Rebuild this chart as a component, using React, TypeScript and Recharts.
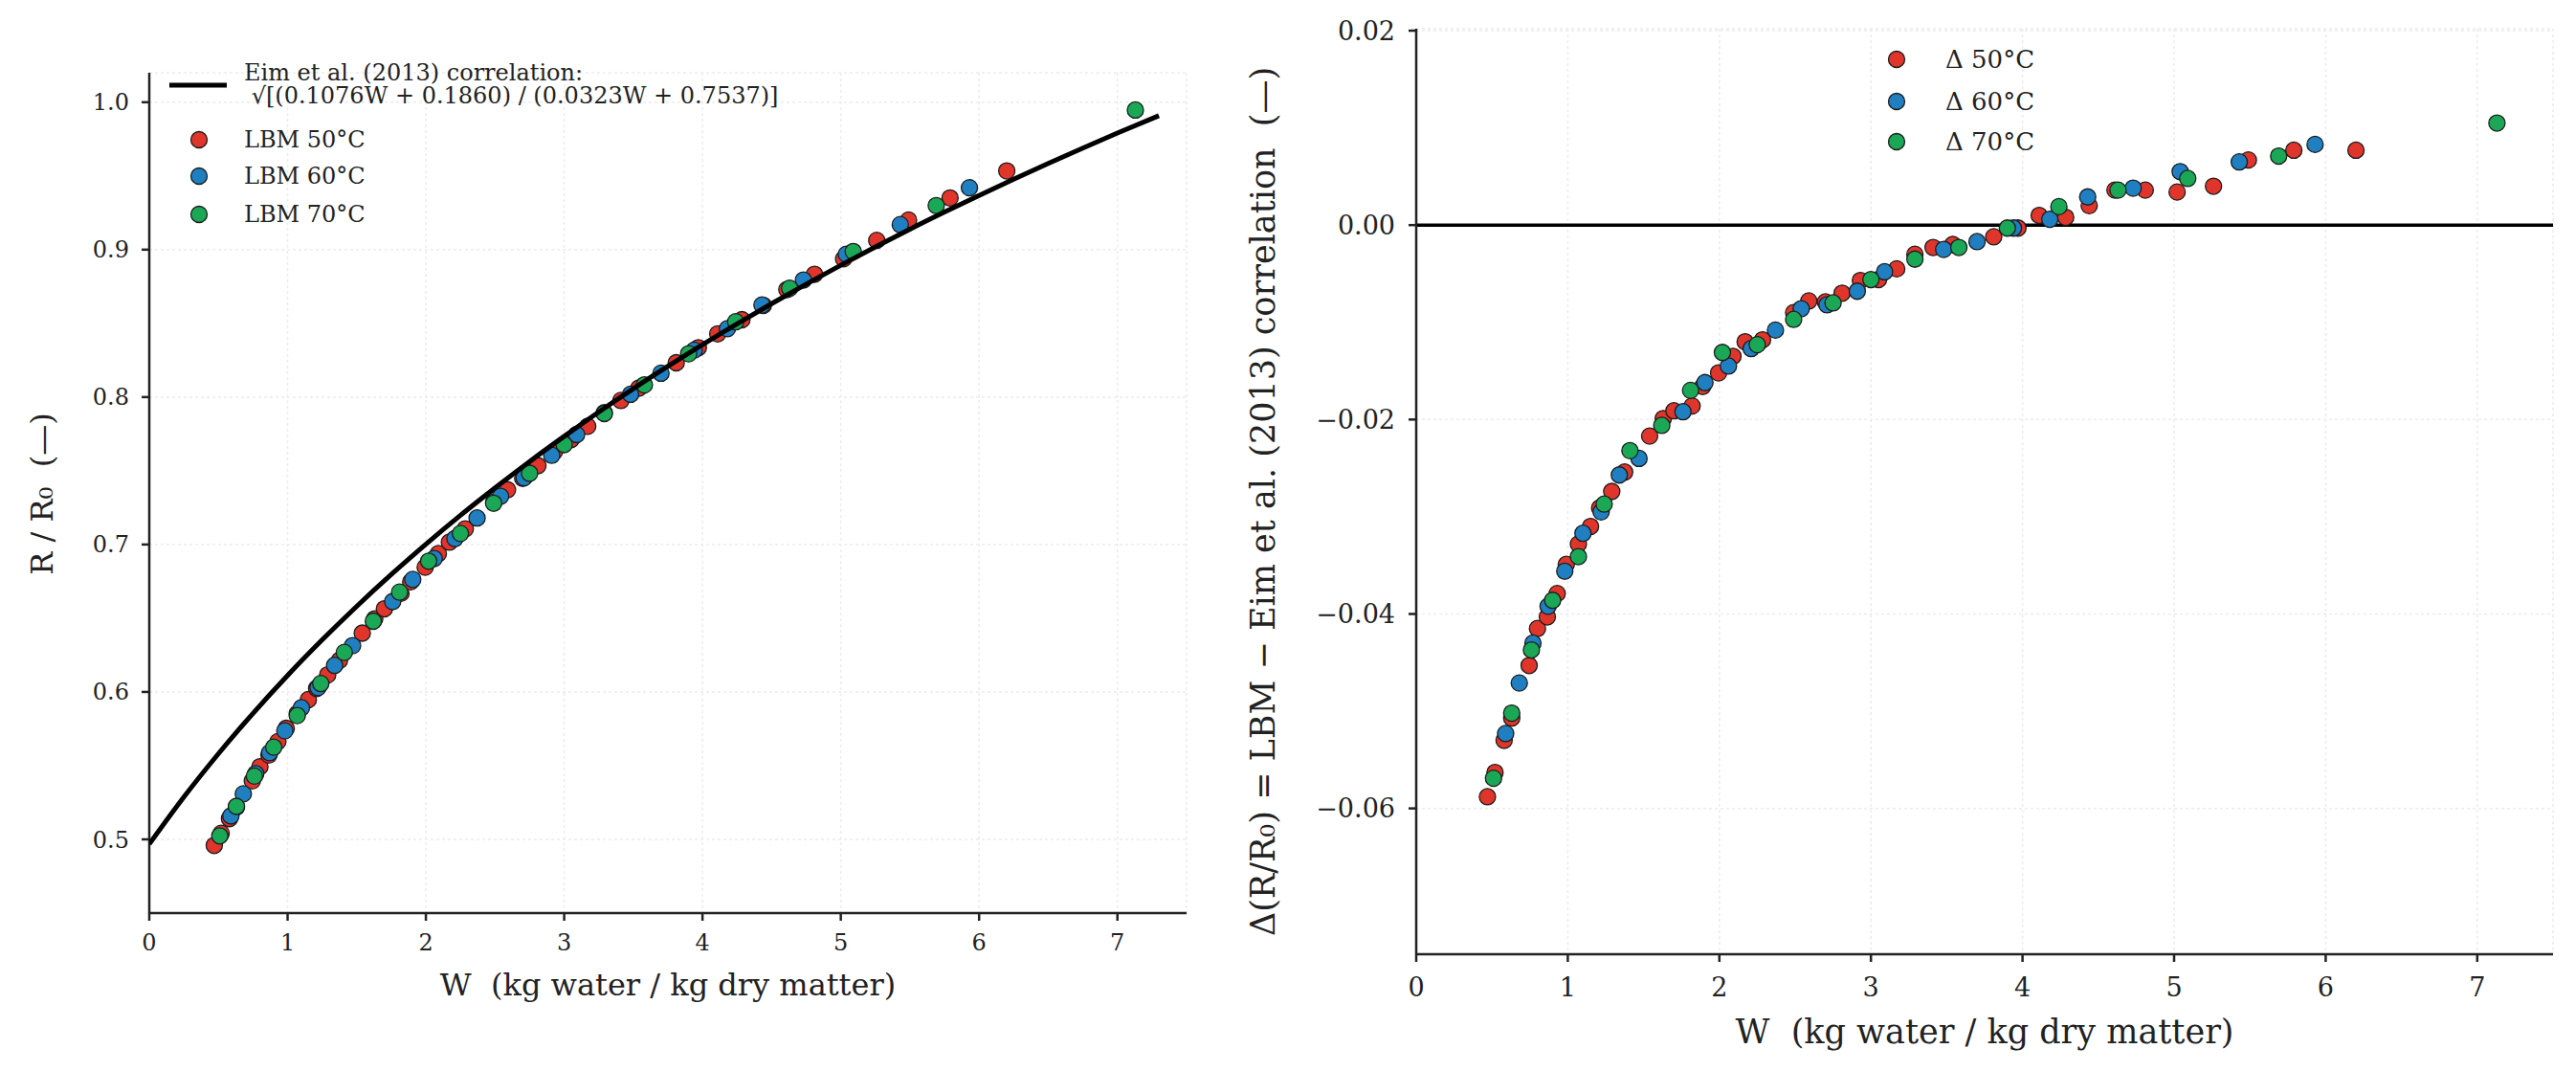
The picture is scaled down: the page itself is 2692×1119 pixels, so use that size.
import React from 'react';
import { ScatterChart, Scatter, XAxis, YAxis, CartesianGrid, ReferenceLine, Legend } from 'recharts';

const FONT = '"DejaVu Serif", serif';
const RED = '#e0352b';
const BLUE = '#1f7fc0';
const GREEN = '#1aa856';
const INK = '#222222';

// moisture content W (kg water / kg dry matter) per temperature
const w50 = [0.47, 0.52, 0.58, 0.63, 0.745, 0.8, 0.865, 0.93, 0.99, 1.07, 1.15, 1.21, 1.29, 1.375, 1.54, 1.63, 1.7, 1.82, 1.89, 1.995, 2.09, 2.17, 2.285, 2.49, 2.59, 2.7, 2.81, 2.93, 3.05, 3.17, 3.29, 3.41, 3.54, 3.81, 3.97, 4.11, 4.285, 4.44, 4.61, 4.81, 5.02, 5.26, 5.49, 5.79, 6.2];
const w60 = [0.59, 0.68, 0.77, 0.87, 0.98, 1.1, 1.22, 1.34, 1.47, 1.76, 1.905, 2.06, 2.21, 2.37, 2.54, 2.71, 2.91, 3.09, 3.48, 3.7, 3.94, 4.18, 4.43, 4.73, 5.04, 5.43, 5.93];
const w70 = [0.51, 0.63, 0.76, 0.9, 1.07, 1.24, 1.41, 1.62, 1.81, 2.02, 2.25, 2.49, 2.75, 3.0, 3.29, 3.58, 3.9, 4.24, 4.63, 5.09, 5.69, 7.13];

// LBM R/R0
const r50 = [0.4959, 0.5041, 0.5141, 0.5219, 0.5397, 0.5493, 0.5572, 0.5663, 0.5753, 0.5853, 0.5948, 0.6024, 0.6116, 0.6214, 0.6399, 0.6496, 0.6564, 0.6669, 0.6747, 0.6846, 0.6938, 0.7016, 0.7106, 0.7287, 0.7371, 0.7449, 0.7535, 0.763, 0.7712, 0.7802, 0.7894, 0.7977, 0.8061, 0.8233, 0.8335, 0.8429, 0.8525, 0.8622, 0.8729, 0.8833, 0.8938, 0.9063, 0.9201, 0.9351, 0.9534];
const r60 = [0.5159, 0.5309, 0.5446, 0.5588, 0.5736, 0.5893, 0.603, 0.618, 0.6314, 0.6613, 0.6763, 0.6905, 0.704, 0.718, 0.7327, 0.7453, 0.7605, 0.7746, 0.8019, 0.8162, 0.8318, 0.8464, 0.8625, 0.8794, 0.8969, 0.917, 0.942];
const r70 = [0.5024, 0.5224, 0.5429, 0.5625, 0.584, 0.6057, 0.6268, 0.648, 0.6677, 0.6887, 0.7075, 0.728, 0.7483, 0.7678, 0.7889, 0.8083, 0.8294, 0.8511, 0.8739, 0.8987, 0.9299, 0.9947];

// residuals LBM - correlation
const d50 = [-0.0588, -0.0563, -0.053, -0.0507, -0.0453, -0.0415, -0.0403, -0.0379, -0.0349, -0.0328, -0.031, -0.0291, -0.0274, -0.0254, -0.0217, -0.0199, -0.0191, -0.0186, -0.0166, -0.0152, -0.0135, -0.012, -0.0118, -0.009, -0.0078, -0.0079, -0.007, -0.0057, -0.0056, -0.0045, -0.003, -0.0023, -0.002, -0.0012, -0.0003, 0.001, 0.0008, 0.002, 0.0036, 0.0036, 0.0034, 0.004, 0.0067, 0.0077, 0.0077];
const d60 = [-0.0523, -0.0471, -0.043, -0.0392, -0.0356, -0.0317, -0.0295, -0.0257, -0.024, -0.0192, -0.0162, -0.0145, -0.0127, -0.0108, -0.0086, -0.0082, -0.0068, -0.0048, -0.0025, -0.0017, -0.0003, 0.0006, 0.0029, 0.0038, 0.0055, 0.0065, 0.0083];
const d70 = [-0.0569, -0.0502, -0.0437, -0.0386, -0.0341, -0.0287, -0.0232, -0.0206, -0.017, -0.0131, -0.0123, -0.0097, -0.008, -0.0056, -0.0035, -0.0023, -0.0003, 0.0019, 0.0036, 0.0048, 0.0071, 0.0105];

// Eim et al. (2013) curve
const wCurve = [0, 0.25, 0.5, 0.75, 1, 1.25, 1.5, 1.75, 2, 2.25, 2.5, 2.75, 3, 3.25, 3.5, 3.75, 4, 4.25, 4.5, 4.75, 5, 5.25, 5.5, 5.75, 6, 6.25, 6.5, 6.75, 7, 7.3];
const rCurve = [0.4968, 0.5287, 0.5581, 0.5855, 0.6112, 0.6353, 0.6581, 0.6797, 0.7002, 0.7198, 0.7384, 0.7563, 0.7734, 0.7899, 0.8057, 0.8209, 0.8356, 0.8497, 0.8634, 0.8766, 0.8894, 0.9018, 0.9139, 0.9255, 0.9368, 0.9478, 0.9585, 0.9689, 0.9791, 0.9909];

const xTicks = [0, 1, 2, 3, 4, 5, 6, 7];
const rTicks = [0.5, 0.6, 0.7, 0.8, 0.9, 1.0];
const dTicks = [-0.06, -0.04, -0.02, 0.0, 0.02];

const NB = '\u00a0';
const xTitle = `W${NB}${NB}(kg water / kg dry matter)`;
const leftYTitle = `R / R₀${NB}${NB}(—)`;
const rightYTitle = `Δ(R/R₀) = LBM − Eim et al. (2013) correlation${NB}${NB}(—)`;

const toPoints = (ws: number[], vs: number[]) => ws.map((w, i) => ({ w, v: vs[i] }));

const dot = (fill: string) => (props: any) => (
  <circle cx={props.cx} cy={props.cy} r={8.5} fill={fill} stroke="#1c1c1c" strokeWidth={1.3} />
);

const noDot = () => <g />;

// vertical axis title placed at the middle of the plot height
const VerticalTitle = ({ px, py, size, text }: any) => (
  <text
    x={px}
    y={py}
    transform={`rotate(-90 ${px} ${py})`}
    textAnchor="middle"
    dominantBaseline="central"
    fontSize={size}
    fill={INK}
  >
    {text}
  </text>
);

const LegendDot = ({ x, y, fill }: { x: number; y: number; fill: string }) => (
  <svg style={{ position: 'absolute', left: x - 10, top: y - 10 }} width={20} height={20}>
    <circle cx={10} cy={10} r={8.5} fill={fill} stroke="#1c1c1c" strokeWidth={1.3} />
  </svg>
);

const LegendText = ({ x, y, size, children }: any) => (
  <div style={{ position: 'absolute', left: x, top: y - 15, lineHeight: '30px', fontSize: size, whiteSpace: 'pre', color: INK }}>
    {children}
  </div>
);

const LeftLegend = () => (
  <div style={{ position: 'relative', fontFamily: FONT }}>
    <svg style={{ position: 'absolute', left: 177, top: 84 }} width={60} height={10}>
      <line x1={0} x2={60} y1={5} y2={5} stroke="#000" strokeWidth={5} />
    </svg>
    <div style={{ position: 'absolute', left: 255, top: 64, lineHeight: '24px', fontSize: 24, whiteSpace: 'pre', color: INK }}>
      {'Eim et al. (2013) correlation:\n √[(0.1076W + 0.1860) / (0.0323W + 0.7537)]'}
    </div>
    <LegendDot x={208} y={146} fill={RED} />
    <LegendText x={255} y={146} size={24}>LBM 50°C</LegendText>
    <LegendDot x={208} y={184} fill={BLUE} />
    <LegendText x={255} y={184} size={24}>LBM 60°C</LegendText>
    <LegendDot x={208} y={224} fill={GREEN} />
    <LegendText x={255} y={224} size={24}>LBM 70°C</LegendText>
  </div>
);

const RightLegend = () => (
  <div style={{ position: 'relative', fontFamily: FONT }}>
    <LegendDot x={682} y={62} fill={RED} />
    <LegendText x={733} y={62} size={26}>Δ 50°C</LegendText>
    <LegendDot x={682} y={106} fill={BLUE} />
    <LegendText x={733} y={106} size={26}>Δ 60°C</LegendText>
    <LegendDot x={682} y={148} fill={GREEN} />
    <LegendText x={733} y={148} size={26}>Δ 70°C</LegendText>
  </div>
);

const legendWrap = { left: 0, top: 0, width: 0, height: 0, overflow: 'visible' };

const minus = (s: string) => s.replace('-', '\u2212');

export default function App() {
  return (
    <div style={{ position: 'absolute', left: 0, top: 0, width: 2692, height: 1119, background: '#fff', fontFamily: FONT }}>
      <div style={{ position: 'absolute', left: 0, top: 0 }}>
        <ScatterChart width={1300} height={1119} margin={{ top: 76, right: 60, bottom: 105, left: 0 }}>
          <CartesianGrid stroke="#ececec" strokeDasharray="3 3" strokeWidth={1.5} />
          <XAxis
            type="number"
            dataKey="w"
            domain={[0, 7.5]}
            ticks={xTicks}
            allowDataOverflow
            height={60}
            stroke={INK}
            strokeWidth={2.5}
            tickSize={8}
            tickMargin={14}
            tick={{ fontSize: 24, fill: INK }}
            label={{ value: xTitle, position: 'bottom', offset: 3, fontSize: 32, fill: INK }}
          />
          <YAxis
            type="number"
            dataKey="v"
            domain={[0.45, 1.02]}
            ticks={rTicks}
            allowDataOverflow
            width={156}
            stroke={INK}
            strokeWidth={2.5}
            tickSize={8}
            tickMargin={13}
            tick={{ fontSize: 24, fill: INK }}
            tickFormatter={(v: number) => v.toFixed(1)}
            label={<VerticalTitle px={44} py={516} size={32} text={leftYTitle} />}
          />
          <Legend content={<LeftLegend />} wrapperStyle={legendWrap} layout="vertical" verticalAlign="middle" align="center" />
          <Scatter name="LBM 50°C" data={toPoints(w50, r50)} fill={RED} shape={dot(RED)} isAnimationActive={false} />
          <Scatter name="LBM 60°C" data={toPoints(w60, r60)} fill={BLUE} shape={dot(BLUE)} isAnimationActive={false} />
          <Scatter name="LBM 70°C" data={toPoints(w70, r70)} fill={GREEN} shape={dot(GREEN)} isAnimationActive={false} />
          <Scatter
            name="Eim et al. (2013) correlation"
            data={toPoints(wCurve, rCurve)}
            fill="#000"
            shape={noDot}
            line={{ stroke: '#000', strokeWidth: 5 }}
            lineJointType="monotoneX"
            isAnimationActive={false}
          />
        </ScatterChart>
      </div>
      <div style={{ position: 'absolute', left: 1300, top: 0 }}>
        <ScatterChart width={1392} height={1119} margin={{ top: 30, right: 24, bottom: 62, left: 0 }}>
          <CartesianGrid stroke="#ececec" strokeDasharray="3 3" strokeWidth={1.5} />
          <XAxis
            type="number"
            dataKey="w"
            domain={[0, 7.5]}
            ticks={xTicks}
            allowDataOverflow
            height={60}
            stroke={INK}
            strokeWidth={2.5}
            tickSize={8}
            tickMargin={17}
            tick={{ fontSize: 27, fill: INK }}
            label={{ value: xTitle, position: 'bottom', offset: 8, fontSize: 35, fill: INK }}
          />
          <YAxis
            type="number"
            dataKey="v"
            domain={[-0.075, 0.0202]}
            ticks={dTicks}
            allowDataOverflow
            width={180}
            stroke={INK}
            strokeWidth={2.5}
            tickSize={8}
            tickMargin={14}
            tick={{ fontSize: 27, fill: INK }}
            tickFormatter={(v: number) => minus(v.toFixed(2))}
            label={<VerticalTitle px={20} py={524} size={35} text={rightYTitle} />}
          />
          <ReferenceLine y={0} stroke="#000" strokeWidth={3.5} />
          <Legend content={<RightLegend />} wrapperStyle={legendWrap} layout="vertical" verticalAlign="middle" align="center" />
          <Scatter name="Δ 50°C" data={toPoints(w50, d50)} fill={RED} shape={dot(RED)} isAnimationActive={false} />
          <Scatter name="Δ 60°C" data={toPoints(w60, d60)} fill={BLUE} shape={dot(BLUE)} isAnimationActive={false} />
          <Scatter name="Δ 70°C" data={toPoints(w70, d70)} fill={GREEN} shape={dot(GREEN)} isAnimationActive={false} />
        </ScatterChart>
      </div>
    </div>
  );
}
